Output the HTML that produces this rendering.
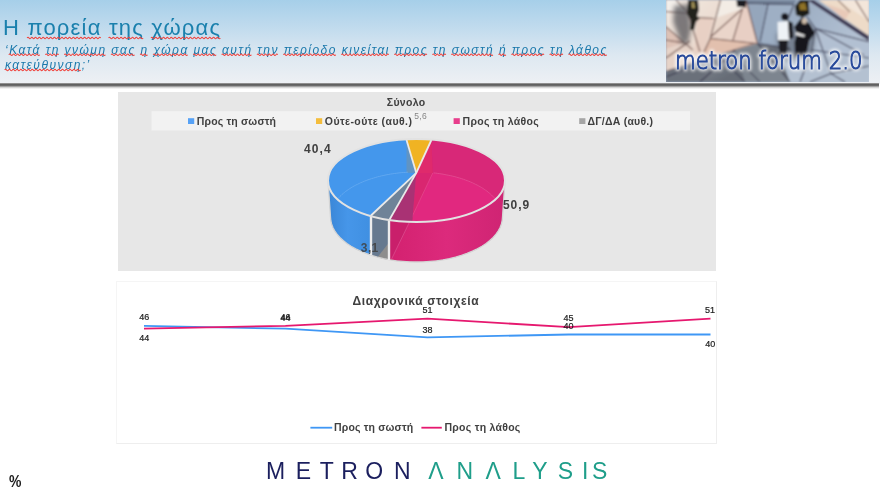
<!DOCTYPE html>
<html lang="el">
<head>
<meta charset="utf-8">
<title>Η πορεία της χώρας</title>
<style>
html,body{margin:0;padding:0;}
body{width:880px;height:490px;position:relative;overflow:hidden;background:#fff;font-family:"Liberation Sans","DejaVu Sans",sans-serif;}
#hdr{position:absolute;left:0;top:0;width:880px;height:84px;background:linear-gradient(to bottom,#a6cfe9 0px,#c3dcee 30px,#dde8f1 55px,#edf0f4 83px);}
#shadow{position:absolute;left:0;top:83px;width:879px;height:7px;background:linear-gradient(to bottom,#b4b4b4 0px,#6a6a6a 1px,#565656 2px,#808080 3px,#c4c4c4 4px,#ececec 5.2px,#ffffff 6.5px);}
#title{position:absolute;left:3px;top:14px;font-size:22px;line-height:28px;color:#1a80ad;white-space:nowrap;letter-spacing:1.19px;}
#sub{position:absolute;left:5px;top:42.5px;font-size:12px;line-height:15px;color:#1a78ab;font-style:italic;white-space:nowrap;letter-spacing:1.47px;}
.w{}
svg .df text{font-family:"DejaVu Sans Light","DejaVu Sans",sans-serif;font-weight:200;}

#p1{position:absolute;left:118px;top:92px;width:598px;height:179px;background:#e7e7e7;}
#p2{position:absolute;left:116px;top:281px;width:599px;height:161px;border:1px solid #f5f5f5;border-right-color:#eeeeee;border-bottom-color:#eeeeee;background:#fff;}
svg{position:absolute;left:0;top:0;}
svg text{font-family:"Liberation Sans","DejaVu Sans",sans-serif;}
#pct{position:absolute;left:8.8px;top:471.8px;font-size:17px;font-weight:bold;color:#1c1c1c;line-height:20px;transform:scaleX(0.82);transform-origin:0 0;}
</style>
</head>
<body>
<div id="hdr"></div>
<div id="shadow"></div>
<div id="title">Η <span class="w">πορεία</span> <span class="w">της</span> <span class="w">χώρας</span></div>
<div id="sub">‘<span class="w">Κατά</span> <span class="w">τη</span> <span class="w">γνώμη</span> <span class="w">σας</span> <span class="w">η</span> <span class="w">χώρα</span> <span class="w">μας</span> <span class="w">αυτή</span> <span class="w">την</span> <span class="w">περίοδο</span> <span class="w">κινείται</span> <span class="w">προς</span> <span class="w">τη</span> <span class="w">σωστή</span> <span class="w">ή</span> <span class="w">προς</span> <span class="w">τη</span> <span class="w">λάθος</span><br><span class="w">κατεύθυνση</span>;’</div>
<div id="p1"></div>
<div id="p2"></div>
<!--PHOTO--><svg id="photo" width="203" height="82" viewBox="666 0 203 82" style="left:666px;top:0">
<defs>
<linearGradient id="pbg" x1="750" y1="0" x2="869" y2="82" gradientUnits="userSpaceOnUse"><stop offset="0" stop-color="#8c9db3"/><stop offset="0.5" stop-color="#a6b6ca"/><stop offset="1" stop-color="#c0ccdb"/></linearGradient>
<linearGradient id="pbe" x1="666" y1="0" x2="740" y2="60" gradientUnits="userSpaceOnUse"><stop offset="0" stop-color="#f2ebe4"/><stop offset="0.55" stop-color="#ebdbd0"/><stop offset="1" stop-color="#e3c8ba"/></linearGradient>
<linearGradient id="pgl" x1="700" y1="50" x2="720" y2="82" gradientUnits="userSpaceOnUse"><stop offset="0" stop-color="#8a9099"/><stop offset="1" stop-color="#666c76"/></linearGradient>
<filter id="soft" x="-5%" y="-10%" width="110%" height="120%"><feGaussianBlur stdDeviation="0.85"/></filter>
<filter id="bl2" x="-30%" y="-30%" width="160%" height="160%"><feGaussianBlur stdDeviation="2"/></filter>
<filter id="bl1" x="-30%" y="-30%" width="160%" height="160%"><feGaussianBlur stdDeviation="0.7"/></filter>
<filter id="glow" x="-10%" y="-40%" width="120%" height="180%"><feGaussianBlur stdDeviation="1.8"/></filter>
</defs>
<g filter="url(#soft)">
<rect x="656" y="-10" width="223" height="102" fill="url(#pbg)"/>
<!-- top dark strip of grey tiles -->
<path d="M746,0 L796,0 L794,4.5 L746.5,3.5Z" fill="#74849a"/>
<path d="M746,3 L768,4 L760,42 L757,43.5Z" fill="#95a6bb"/>
<path d="M768,4 L794,4.5 L778,42 L760,42Z" fill="#9eafc4"/>
<!-- lower-left grey tiles -->
<path d="M666,70.7 L754.6,43.4 L790,48 L800,82 L666,82Z" fill="url(#pgl)"/>
<path d="M666,70.7 L718,55 L700,82 L666,82Z" fill="#6a707a"/>
<path d="M735,50 L757,44 L790,82 L745,82Z" fill="#7d858f"/>
<path d="M778,50 L869,58 L869,82 L790,82Z" fill="#b4c1d1"/>
<path d="M815,28 L869,42 L869,58 L812,50Z" fill="#b2c0d2"/>
<!-- beige left -->
<path d="M666,0 L746,0 L757.5,43.5 L666,70.7Z" fill="url(#pbe)"/>
<path d="M697,17.5 L714,18.5 L704,52 L694,55Z" fill="#e8d0c4"/>
<path d="M742.5,8.7 L710.6,37 L733,40Z" fill="#ead5ca"/>
<path d="M742.5,8.7 L746,0 L757.5,43.5 L733,40Z" fill="#e8cfc4"/>
<path d="M710,38.5 L756.4,43.5 L700,60.5Z" fill="#e2c0ae"/>
<path d="M666,27 L684,43 L666,49Z" fill="#dec2b6"/>
<path d="M666,49 L690,41 L700,60.5 L666,70.7Z" fill="#e6d3c8"/>
<path d="M720.5,0 L746,0 L742.5,8.7 L714,18.5Z" fill="#f3ece5"/>
<path d="M666,0 L676,0 L688,13 L666,11.6Z" fill="#f4efea"/>
<!-- beige right -->
<path d="M818.6,0 L869,0 L869,36Z" fill="#eedbc8"/>
<path d="M838,0 L869,0 L869,21Z" fill="#f3e6da"/>
<path d="M826,4 L850,12 L845,20Z" fill="#e8c9b8"/>
<path d="M813.5,0 L869,36 L869,41 L807.5,0Z" fill="#352e48" opacity="0.95" filter="url(#bl1)"/>
<!-- tile lines -->
<g stroke="#65443f" stroke-width="1.05" fill="none" opacity="0.95">
<path d="M720.5,0 L710,39 L704,52 M697,17.4 L714,18.5 M742.5,8.7 L710.6,37 M742.5,8.7 L733,40 M710.6,38.5 L756.4,43.5 M746,0 L757.5,43.5 M666,11.6 L690,13.5 M666,26.7 L692.7,49.8 M666,40 L684,43 M676,0 L688,13 L700,52 M666,58 L690,41 M855.4,0 L869,21.7 M838,0 L850,12"/>
</g>
<path d="M667.5,70.7 L754.6,43.4" stroke="#5a4a50" stroke-width="1" opacity="0.7"/>
<g stroke="#2e2c44" stroke-width="1.05" fill="none" opacity="0.9">
<path d="M757.5,43.5 L790,48 M768,4 L760,42 M794,4.5 L778,42 M815.3,28.4 L869,41.8 M815.3,28.4 L863.8,55 M815.3,28.4 L831,73.6 M815.3,28.4 L812,50 M807,16.7 L815.3,28.4 M812,50 L869,58 M831,73.6 L869,66 M812,50 L800,82 M831,73.6 L810,82 M831,73.6 L845,82 M700,82 L735,50 M757.5,43.5 L790,82 M718,55 L745,82 M666,77 L718,55 M740,62 L760,82 M746,3.3 L794,4.5"/>
</g>
<!-- shadow of person 1 -->
<path d="M674,6 L689,4 L691,30 L688,44 L681,43 L673,22Z" fill="#55555a" opacity="0.75" filter="url(#bl2)"/>
<!-- person 1 -->
<path d="M688,0 L698,0 L699,10 L697,16 L700,18 L696,22 L694,30 L690,30 L691,20 L687,14Z" fill="#24211e" filter="url(#bl1)"/>
<path d="M691.5,2 L694,2 L695,8 L692,8Z" fill="#a8965a" filter="url(#bl1)"/>
<!-- person 2 top -->
<path d="M736.5,0 L746,0 L746,7.5 L737,6.5Z" fill="#1e1d22" filter="url(#bl1)"/>
<!-- shadows right people -->
<path d="M776,34 L792,30 L816,30 L812,60 L780,60Z" fill="#4a4f5c" opacity="0.5" filter="url(#bl2)"/>
<!-- person white shirt -->
<ellipse cx="784.8" cy="16.7" rx="3.6" ry="3.8" fill="#15151a" filter="url(#bl1)"/>
<path d="M777.6,22 L788.5,21 L789.5,40 L778,41Z" fill="#eef2f6" filter="url(#bl1)"/>
<path d="M788,20.5 L793,23 L793.5,38 L789,39Z" fill="#1a1a20" filter="url(#bl1)"/>
<path d="M778.5,40 L788,40 L786.5,56 L779.5,56Z" fill="#1b1b22" filter="url(#bl1)"/>
<!-- person dark -->
<path d="M794,27 L802,17 L810,24 L815,33 L809,41 L806,57 L795,57 L794.5,42 L797,34Z" fill="#17171c" filter="url(#bl1)"/>
<ellipse cx="804.4" cy="21" rx="2.6" ry="3" fill="#cdbba8" filter="url(#bl1)"/>
<path d="M796,32 L805,35 L804,37 L795.5,35Z" fill="#e6e6e6" filter="url(#bl1)"/>
<!-- person top -->
<path d="M795,6 L800,0 L808.6,0 L809.5,14 L803,17.5 L796,15Z" fill="#1f1b17" filter="url(#bl1)"/>
<path d="M799,4 L805,2.5 L807,10 L800,10Z" fill="#8f7228" filter="url(#bl1)"/>
</g>
<!-- text glow + text -->
<g transform="translate(675,0) scale(0.85,1) translate(-675,0)" class="df">
<text x="675" y="68.8" font-size="25" fill="#ffffff" stroke="#ffffff" stroke-width="4.5" stroke-linejoin="round" opacity="0.8" filter="url(#glow)">metron forum 2.0</text>
<text x="675" y="68.8" font-size="25" fill="#27499a" stroke="#27499a" stroke-width="1.05">metron forum 2.0</text>
</g>
</svg><!--/PHOTO-->
<!--CHARTS--><svg id="charts" width="880" height="490" viewBox="0 0 880 490">
<rect x="151.5" y="111.2" width="538.5" height="19.3" fill="#f2f2f2"/>
<text x="386.8" y="106.2" font-size="10.5" font-weight="bold" textLength="38.4" lengthAdjust="spacing" fill="#404040">Σύνολο</text>
<rect x="188" y="118.2" width="6.2" height="5.8" fill="#57a2f6"/>
<text x="196.8" y="124.6" font-size="10.5" font-weight="bold" textLength="79.2" lengthAdjust="spacing" fill="#404040">Προς τη σωστή</text>
<rect x="316" y="118.2" width="6.2" height="5.8" fill="#f4bd3c"/>
<text x="324.8" y="124.6" font-size="10.5" font-weight="bold" textLength="87.1" lengthAdjust="spacing" fill="#404040">Ούτε-ούτε (αυθ.)</text>
<rect x="453.6" y="118.2" width="6.2" height="5.8" fill="#e83e8c"/>
<text x="462.5" y="124.6" font-size="10.5" font-weight="bold" textLength="76.2" lengthAdjust="spacing" fill="#404040">Προς τη λάθος</text>
<rect x="579.2" y="118.2" width="6.2" height="5.8" fill="#a6a6a6"/>
<text x="587.5" y="124.6" font-size="10.5" font-weight="bold" textLength="65.5" lengthAdjust="spacing" fill="#404040">ΔΓ/ΔΑ (αυθ.)</text>
<text x="414.3" y="118.7" font-size="8.5" textLength="12.4" lengthAdjust="spacing" fill="#858585">5,6</text>
<defs>
<linearGradient id="gbw" x1="328" x2="372" y1="0" y2="0" gradientUnits="userSpaceOnUse"><stop offset="0" stop-color="#3a86d6"/><stop offset="0.45" stop-color="#4696e9"/><stop offset="1" stop-color="#3f8fe1"/></linearGradient>
<linearGradient id="gpw" x1="389" x2="505" y1="0" y2="0" gradientUnits="userSpaceOnUse"><stop offset="0" stop-color="#d3216f"/><stop offset="0.5" stop-color="#dc2a7c"/><stop offset="1" stop-color="#cf2473"/></linearGradient>
<clipPath id="ctop"><ellipse cx="416.5" cy="180.5" rx="88.5" ry="41.5"/></clipPath>
</defs>
<path d="M328.0,180.5 L328.0,181.6 L328.1,182.6 L328.3,183.7 L328.5,184.7 L328.7,185.8 L329.0,186.8 L329.4,187.9 L329.8,188.9 L330.3,190.0 L330.9,191.0 L331.5,192.0 L332.1,193.0 L332.8,194.0 L333.6,195.0 L334.4,196.0 L335.3,197.0 L336.2,198.0 L337.2,198.9 L338.3,199.9 L339.3,200.8 L340.5,201.7 L341.7,202.6 L342.9,203.5 L344.2,204.4 L345.5,205.3 L346.9,206.1 L348.3,206.9 L349.8,207.8 L351.3,208.5 L352.8,209.3 L354.4,210.1 L356.0,210.8 L357.7,211.5 L359.4,212.2 L361.2,212.9 L363.0,213.5 L364.8,214.2 L366.6,214.8 L368.5,215.4 L370.4,215.9 L370.4,255.0 L368.6,254.4 L366.8,253.7 L365.1,253.1 L363.4,252.4 L361.7,251.7 L360.0,250.9 L358.4,250.2 L356.9,249.4 L355.3,248.6 L353.8,247.8 L352.4,247.0 L350.9,246.1 L349.6,245.3 L348.2,244.4 L346.9,243.5 L345.7,242.5 L344.5,241.6 L343.3,240.6 L342.2,239.7 L341.1,238.7 L340.1,237.7 L339.2,236.7 L338.2,235.7 L337.4,234.6 L336.5,233.6 L335.8,232.5 L335.1,231.4 L334.4,230.4 L333.8,229.3 L333.2,228.2 L332.7,227.1 L332.2,226.0 L331.8,224.9 L331.5,223.8 L331.2,222.6 L330.9,221.5 L330.7,220.4 L330.6,219.3 L330.5,218.1 L330.5,217.0Z" fill="url(#gbw)"/>
<path d="M370.4,215.9 L370.9,216.1 L371.3,216.2 L371.8,216.3 L372.2,216.4 L372.7,216.6 L373.1,216.7 L373.6,216.8 L374.0,216.9 L374.5,217.0 L375.0,217.1 L375.4,217.3 L375.9,217.4 L376.3,217.5 L376.8,217.6 L377.3,217.7 L377.7,217.8 L378.2,217.9 L378.7,218.0 L379.2,218.1 L379.6,218.2 L380.1,218.3 L380.6,218.4 L381.1,218.5 L381.5,218.6 L382.0,218.7 L382.5,218.8 L383.0,218.9 L383.5,219.0 L383.9,219.1 L384.4,219.2 L384.9,219.3 L385.4,219.4 L385.9,219.4 L386.4,219.5 L386.9,219.6 L387.4,219.7 L387.9,219.8 L388.4,219.8 L388.8,219.9 L389.3,220.0 L389.3,259.7 L388.8,259.6 L388.4,259.5 L387.9,259.4 L387.4,259.3 L386.9,259.2 L386.4,259.1 L385.9,259.1 L385.4,259.0 L384.9,258.9 L384.4,258.8 L383.9,258.6 L383.4,258.5 L383.0,258.4 L382.5,258.3 L382.0,258.2 L381.5,258.1 L381.0,258.0 L380.6,257.9 L380.1,257.8 L379.6,257.7 L379.1,257.5 L378.7,257.4 L378.2,257.3 L377.7,257.2 L377.3,257.0 L376.8,256.9 L376.3,256.8 L375.9,256.7 L375.4,256.5 L374.9,256.4 L374.5,256.3 L374.0,256.1 L373.6,256.0 L373.1,255.9 L372.7,255.7 L372.2,255.6 L371.8,255.4 L371.3,255.3 L370.9,255.1 L370.4,255.0Z" fill="#66798f"/>
<path d="M389.3,220.0 L393.3,220.6 L397.4,221.0 L401.5,221.4 L405.6,221.7 L409.7,221.9 L413.9,222.0 L418.1,222.0 L422.2,221.9 L426.4,221.7 L430.5,221.5 L434.6,221.1 L438.6,220.7 L442.7,220.1 L446.6,219.5 L450.5,218.8 L454.3,218.0 L458.0,217.2 L461.6,216.2 L465.2,215.2 L468.6,214.0 L471.9,212.9 L475.1,211.6 L478.2,210.3 L481.1,208.9 L483.8,207.4 L486.5,205.9 L488.9,204.3 L491.3,202.7 L493.4,201.0 L495.4,199.3 L497.2,197.6 L498.8,195.8 L500.2,193.9 L501.5,192.1 L502.6,190.2 L503.4,188.3 L504.1,186.3 L504.6,184.4 L504.9,182.5 L505.0,180.5 L502.5,217.0 L502.4,219.1 L502.1,221.3 L501.6,223.4 L501.0,225.5 L500.1,227.5 L499.1,229.6 L497.8,231.6 L496.4,233.6 L494.8,235.6 L493.1,237.5 L491.1,239.4 L489.0,241.2 L486.7,243.0 L484.3,244.7 L481.7,246.3 L479.0,247.9 L476.2,249.4 L473.2,250.8 L470.0,252.2 L466.8,253.5 L463.4,254.7 L460.0,255.8 L456.4,256.9 L452.8,257.8 L449.1,258.7 L445.3,259.4 L441.4,260.1 L437.5,260.6 L433.5,261.1 L429.5,261.5 L425.5,261.8 L421.4,261.9 L417.3,262.0 L413.3,262.0 L409.2,261.8 L405.2,261.6 L401.2,261.3 L397.2,260.8 L393.2,260.3 L389.3,259.7Z" fill="url(#gpw)"/>
<path d="M389,242.5 L389,260.2 L377.5,257.2Z" fill="#8d8d8d"/>
<path d="M389,220.8 L409.5,222.3 L391.6,259.6 L389,260.2Z" fill="#c91f6b"/>
<path d="M409.5,222 L391.6,259" stroke="#e2609c" stroke-width="0.7" fill="none" opacity="0.8"/>
<path d="M328.0,180.5 L330.5,217.0 L330.8,220.5 L331.6,224.0 L332.9,227.5 L334.7,230.9 L337.0,234.2 L339.9,237.4 L343.2,240.5 L346.9,243.5 L351.1,246.2 L355.7,248.8 L360.6,251.2 L366.0,253.4 L371.6,255.4 L377.5,257.1 L383.6,258.6 L389.9,259.8 L396.4,260.8 L403.0,261.4 L409.8,261.9 L416.5,262.0 L423.2,261.9 L430.0,261.4 L436.6,260.8 L443.1,259.8 L449.4,258.6 L455.5,257.1 L461.4,255.4 L467.0,253.4 L472.4,251.2 L477.3,248.8 L481.9,246.2 L486.1,243.5 L489.8,240.5 L493.1,237.4 L496.0,234.2 L498.3,230.9 L500.1,227.5 L501.4,224.0 L502.2,220.5 L502.5,217.0 L505.0,180.5" fill="none" stroke="#d4d4d4" stroke-width="1.3"/>
<path d="M416.3,172.9 L370.4,215.9 L365.8,214.5 L361.4,213.0 L357.3,211.3 L353.3,209.6 L349.6,207.7 L346.1,205.7 L342.9,203.6 L340.0,201.4 L337.4,199.1 L335.1,196.8 L333.1,194.4 L331.4,192.0 L330.1,189.5 L329.1,186.9 L328.4,184.4 L328.0,181.8 L328.0,179.2 L328.4,176.7 L329.0,174.1 L330.1,171.6 L331.4,169.1 L333.1,166.7 L335.1,164.3 L337.4,161.9 L340.0,159.7 L342.9,157.5 L346.0,155.4 L349.5,153.4 L353.2,151.5 L357.2,149.7 L361.3,148.0 L365.7,146.5 L370.3,145.1 L375.1,143.8 L380.0,142.7 L385.1,141.7 L390.2,140.9 L395.5,140.2 L400.9,139.7 L406.3,139.3Z" fill="#4497ec"/>
<path d="M416.3,172.9 L406.3,139.3 L407.0,139.2 L407.6,139.2 L408.2,139.2 L408.8,139.2 L409.5,139.1 L410.1,139.1 L410.7,139.1 L411.4,139.1 L412.0,139.1 L412.6,139.0 L413.3,139.0 L413.9,139.0 L414.5,139.0 L415.2,139.0 L415.8,139.0 L416.4,139.0 L417.1,139.0 L417.7,139.0 L418.3,139.0 L419.0,139.0 L419.6,139.0 L420.2,139.0 L420.9,139.1 L421.5,139.1 L422.1,139.1 L422.8,139.1 L423.4,139.1 L424.0,139.1 L424.6,139.2 L425.3,139.2 L425.9,139.2 L426.5,139.3 L427.2,139.3 L427.8,139.3 L428.4,139.4 L429.0,139.4 L429.7,139.5 L430.3,139.5 L430.9,139.6 L431.5,139.6Z" fill="#f0b323"/>
<path d="M416.3,172.9 L431.5,139.6 L438.6,140.3 L445.6,141.3 L452.3,142.6 L458.9,144.1 L465.1,145.8 L471.0,147.8 L476.5,150.0 L481.6,152.4 L486.3,155.0 L490.6,157.8 L494.3,160.7 L497.5,163.8 L500.1,166.9 L502.2,170.2 L503.7,173.5 L504.7,176.9 L505.0,180.3 L504.7,183.7 L503.9,187.1 L502.4,190.4 L500.4,193.7 L497.8,196.9 L494.7,199.9 L491.0,202.9 L486.9,205.7 L482.2,208.3 L477.1,210.7 L471.7,213.0 L465.8,215.0 L459.6,216.7 L453.1,218.3 L446.4,219.6 L439.5,220.6 L432.4,221.3 L425.2,221.8 L418.0,222.0 L410.7,221.9 L403.5,221.5 L396.3,220.9 L389.3,220.0Z" fill="#e1287f"/>
<path d="M416.3,172.9 L389.3,220.0 L388.8,219.9 L388.4,219.8 L387.9,219.8 L387.4,219.7 L386.9,219.6 L386.4,219.5 L385.9,219.4 L385.4,219.4 L384.9,219.3 L384.4,219.2 L383.9,219.1 L383.5,219.0 L383.0,218.9 L382.5,218.8 L382.0,218.7 L381.5,218.6 L381.1,218.5 L380.6,218.4 L380.1,218.3 L379.6,218.2 L379.2,218.1 L378.7,218.0 L378.2,217.9 L377.7,217.8 L377.3,217.7 L376.8,217.6 L376.3,217.5 L375.9,217.4 L375.4,217.3 L375.0,217.1 L374.5,217.0 L374.0,216.9 L373.6,216.8 L373.1,216.7 L372.7,216.6 L372.2,216.4 L371.8,216.3 L371.3,216.2 L370.9,216.1 L370.4,215.9Z" fill="#6f8398"/>
<g clip-path="url(#ctop)">
<clipPath id="cpk"><path d="M416.3,172.9 L431.5,139.6 L438.6,140.3 L445.6,141.3 L452.3,142.6 L458.9,144.1 L465.1,145.8 L471.0,147.8 L476.5,150.0 L481.6,152.4 L486.3,155.0 L490.6,157.8 L494.3,160.7 L497.5,163.8 L500.1,166.9 L502.2,170.2 L503.7,173.5 L504.7,176.9 L505.0,180.3 L504.7,183.7 L503.9,187.1 L502.4,190.4 L500.4,193.7 L497.8,196.9 L494.7,199.9 L491.0,202.9 L486.9,205.7 L482.2,208.3 L477.1,210.7 L471.7,213.0 L465.8,215.0 L459.6,216.7 L453.1,218.3 L446.4,219.6 L439.5,220.6 L432.4,221.3 L425.2,221.8 L418.0,222.0 L410.7,221.9 L403.5,221.5 L396.3,220.9 L389.3,220.0Z"/></clipPath>
<g clip-path="url(#cpk)"><path d="M300,120 H540 V280 H300Z M502.5,217.0 L501.4,224.0 L498.3,230.9 L493.1,237.4 L486.1,243.5 L477.3,248.8 L467.0,253.4 L455.5,257.1 L443.1,259.8 L430.0,261.4 L416.5,262.0 L403.0,261.4 L389.9,259.8 L377.5,257.1 L366.0,253.4 L355.7,248.8 L346.9,243.5 L339.9,237.4 L334.7,230.9 L331.6,224.0 L330.5,217.0 L331.6,210.0 L334.7,203.1 L339.9,196.6 L346.9,190.5 L355.7,185.2 L366.0,180.6 L377.5,176.9 L389.9,174.2 L403.0,172.6 L416.5,172.0 L430.0,172.6 L443.1,174.2 L455.5,176.9 L467.0,180.6 L477.3,185.2 L486.1,190.5 L493.1,196.6 L498.3,203.1 L501.4,210.0 L502.5,217.0Z" fill="#d82878" fill-rule="evenodd"/></g>
<path d="M416.3,172.9 L431.4,140 L432.8,172.9 L409.5,222.5 L412.2,222.5Z" fill="#d92670"/>
<path d="M416.3,172.9 L431.4,140 L432.6,172.9Z" fill="#df2a6c"/>
<path d="M432.8,172.9 L409.5,222" stroke="#e85a9c" stroke-width="0.7" fill="none" opacity="0.7"/>
<path d="M406.5,140.3 L406.5,172.7 L416.3,172.9Z" fill="#6094c3"/>
<path d="M416.3,172.9 L406.3,139.3 L407.0,139.2 L407.6,139.2 L408.2,139.2 L408.8,139.2 L409.5,139.1 L410.1,139.1 L410.7,139.1 L411.4,139.1 L412.0,139.1 L412.6,139.0 L413.3,139.0 L413.9,139.0 L414.5,139.0 L415.2,139.0 L415.8,139.0 L416.4,139.0 L417.1,139.0 L417.7,139.0 L418.3,139.0 L419.0,139.0 L419.6,139.0 L420.2,139.0 L420.9,139.1 L421.5,139.1 L422.1,139.1 L422.8,139.1 L423.4,139.1 L424.0,139.1 L424.6,139.2 L425.3,139.2 L425.9,139.2 L426.5,139.3 L427.2,139.3 L427.8,139.3 L428.4,139.4 L429.0,139.4 L429.7,139.5 L430.3,139.5 L430.9,139.6 L431.5,139.6Z" fill="#f0b323"/>
<path d="M416.3,172.9 L389,220.5 L412.2,222.5Z" fill="#a93274"/>
<path d="M338.0,198.7 L338.9,197.6 L339.9,196.5 L341.0,195.5 L342.1,194.4 L343.2,193.4 L344.5,192.4 L345.7,191.4 L347.0,190.5 L348.4,189.5 L349.8,188.6 L351.2,187.7 L352.7,186.8 L354.3,185.9 L355.8,185.1 L357.5,184.3 L359.1,183.5 L360.8,182.7 L362.6,182.0 L364.3,181.2 L366.2,180.5 L368.0,179.8 L369.9,179.2 L371.8,178.6 L373.7,178.0 L375.7,177.4 L377.7,176.8 L379.8,176.3 L381.8,175.8 L383.9,175.4 L386.0,174.9 L388.1,174.5 L390.3,174.1 L392.4,173.8 L394.6,173.5 L396.8,173.2 L399.0,172.9 L401.2,172.7 L403.4,172.5 L405.7,172.4 L407.9,172.2" fill="none" stroke="#6fb0f2" stroke-width="0.8" opacity="0.8"/>
<path d="M433.6,172.9 L435.7,173.1 L437.8,173.4 L439.9,173.7 L442.0,174.0 L444.1,174.4 L446.1,174.8 L448.2,175.2 L450.2,175.6 L452.1,176.0 L454.1,176.5 L456.1,177.0 L458.0,177.6 L459.9,178.1 L461.7,178.7 L463.6,179.3 L465.4,180.0 L467.1,180.6 L468.9,181.3 L470.6,182.0 L472.3,182.7 L473.9,183.5 L475.5,184.3 L477.1,185.0 L478.6,185.9 L480.1,186.7 L481.5,187.5 L482.9,188.4 L484.3,189.3 L485.6,190.2 L486.9,191.1 L488.1,192.1 L489.3,193.0 L490.4,194.0 L491.5,195.0 L492.5,196.0 L493.5,197.0 L494.5,198.0 L495.4,199.0 L496.2,200.1 L497.0,201.1" fill="none" stroke="#e85a9c" stroke-width="0.8" opacity="0.8"/>
</g>
<path d="M416.3,172.9 L406.5,140.0" stroke="#e9e9e9" stroke-width="1.8"/>
<path d="M416.3,172.9 L431.4,140.0" stroke="#e9e9e9" stroke-width="1.8"/>
<path d="M416.3,172.9 L389.0,220.5" stroke="#e9e9e9" stroke-width="1.8"/>
<path d="M416.3,172.9 L371.0,215.5" stroke="#e9e9e9" stroke-width="1.8"/>
<path d="M371,215.5 V255.3 M389,220.5 V260.4" stroke="#ececec" stroke-width="2.4"/>
<ellipse cx="416.5" cy="180.5" rx="88.5" ry="41.5" fill="none" stroke="#e2e2e2" stroke-width="2"/>
<text x="304.0" y="152.9" font-size="12" font-weight="bold" textLength="26.7" lengthAdjust="spacing" fill="#404040">40,4</text>
<text x="502.9" y="209.4" font-size="12" font-weight="bold" textLength="26.2" lengthAdjust="spacing" fill="#404040">50,9</text>
<text x="360.8" y="252.2" font-size="12" font-weight="bold" textLength="17.5" lengthAdjust="spacing" fill="#404040" opacity="0.85">3,1</text>
<text x="352.5" y="304.5" font-size="12" font-weight="bold" textLength="126.1" lengthAdjust="spacing" fill="#404040">Διαχρονικά στοιχεία</text>
<polyline points="144.0,325.8 285.5,328.7 427.5,337.4 568.8,334.5 710.5,334.5" fill="none" stroke="#3f97f5" stroke-width="1.8" stroke-linejoin="round"/>
<polyline points="144.0,328.7 285.5,325.8 427.5,318.6 568.8,327.2 710.5,318.6" fill="none" stroke="#e6186f" stroke-width="1.8" stroke-linejoin="round"/>
<text x="144.2" y="320.2" font-size="9" text-anchor="middle" fill="#1c1c1c" stroke="#1c1c1c" stroke-width="0.2">46</text>
<text x="144.2" y="341.0" font-size="9" text-anchor="middle" fill="#1c1c1c" stroke="#1c1c1c" stroke-width="0.2">44</text>
<text x="285.4" y="319.9" font-size="9" text-anchor="middle" fill="#1c1c1c" stroke="#1c1c1c" stroke-width="0.2">46</text>
<text x="285.4" y="321.1" font-size="9" text-anchor="middle" fill="#1c1c1c" stroke="#1c1c1c" stroke-width="0.2">44</text>
<text x="427.4" y="312.7" font-size="9" text-anchor="middle" fill="#1c1c1c" stroke="#1c1c1c" stroke-width="0.2">51</text>
<text x="427.4" y="332.6" font-size="9" text-anchor="middle" fill="#1c1c1c" stroke="#1c1c1c" stroke-width="0.2">38</text>
<text x="568.5" y="320.5" font-size="9" text-anchor="middle" fill="#1c1c1c" stroke="#1c1c1c" stroke-width="0.2">45</text>
<text x="568.5" y="328.7" font-size="9" text-anchor="middle" fill="#1c1c1c" stroke="#1c1c1c" stroke-width="0.2">40</text>
<text x="710.0" y="312.5" font-size="9" text-anchor="middle" fill="#1c1c1c" stroke="#1c1c1c" stroke-width="0.2">51</text>
<text x="710.2" y="346.9" font-size="9" text-anchor="middle" fill="#1c1c1c" stroke="#1c1c1c" stroke-width="0.2">40</text>
<path d="M310.4,427.7 H332.2" stroke="#3f97f5" stroke-width="1.8"/>
<text x="334.0" y="431.3" font-size="10.5" font-weight="bold" textLength="79.2" lengthAdjust="spacing" fill="#404040">Προς τη σωστή</text>
<path d="M421.4,427.7 H441.8" stroke="#e6186f" stroke-width="1.8"/>
<text x="444.5" y="431.3" font-size="10.5" font-weight="bold" textLength="75.8" lengthAdjust="spacing" fill="#404040">Προς τη λάθος</text>
<text y="478.6" font-size="23" fill="#1b1f5e" text-anchor="middle" x="275.5 303.3 326.9 349.6 374.2 402.3">METRON</text>
<text y="478.6" font-size="23" fill="#1f9e8a" text-anchor="middle" x="435.9 464.9 493.3 518.9 539.9 565.5 585.3 599.6">ΛNΛLYSIS</text>
</svg><!--/CHARTS-->
<!--SQ--><svg id="sq" width="880" height="90" viewBox="0 0 880 90"><path d="M27.1,38.0 Q28.0,36.5 29.0,38.0 Q29.9,39.5 30.9,38.0 Q31.8,36.5 32.8,38.0 Q33.7,39.5 34.6,38.0 Q35.6,36.5 36.5,38.0 Q37.5,39.5 38.4,38.0 Q39.4,36.5 40.3,38.0 Q41.2,39.5 42.2,38.0 Q43.1,36.5 44.1,38.0 Q45.0,39.5 46.0,38.0 Q46.9,36.5 47.8,38.0 Q48.8,39.5 49.7,38.0 Q50.7,36.5 51.6,38.0 Q52.6,39.5 53.5,38.0 Q54.4,36.5 55.4,38.0 Q56.3,39.5 57.3,38.0 Q58.2,36.5 59.2,38.0 Q60.1,39.5 61.1,38.0 Q62.0,36.5 62.9,38.0 Q63.9,39.5 64.8,38.0 Q65.8,36.5 66.7,38.0 Q67.7,39.5 68.6,38.0 Q69.5,36.5 70.5,38.0 Q71.4,39.5 72.4,38.0 Q73.3,36.5 74.3,38.0 Q75.2,39.5 76.1,38.0 Q77.1,36.5 78.0,38.0 Q79.0,39.5 79.9,38.0 Q80.9,36.5 81.8,38.0 Q82.7,39.5 83.7,38.0 Q84.6,36.5 85.6,38.0 Q86.5,39.5 87.5,38.0 Q88.4,36.5 89.4,38.0 Q90.3,39.5 91.2,38.0 Q92.2,36.5 93.1,38.0 Q94.1,39.5 95.0,38.0 Q96.0,36.5 96.9,38.0 Q97.8,39.5 98.8,38.0 Q99.7,36.5 100.7,38.0 M108.6,38.0 Q109.5,36.5 110.5,38.0 Q111.5,39.5 112.4,38.0 Q113.4,36.5 114.3,38.0 Q115.3,39.5 116.2,38.0 Q117.2,36.5 118.2,38.0 Q119.1,39.5 120.1,38.0 Q121.0,36.5 122.0,38.0 Q123.0,39.5 123.9,38.0 Q124.9,36.5 125.8,38.0 Q126.8,39.5 127.8,38.0 Q128.7,36.5 129.7,38.0 Q130.6,39.5 131.6,38.0 Q132.5,36.5 133.5,38.0 Q134.5,39.5 135.4,38.0 Q136.4,36.5 137.3,38.0 Q138.3,39.5 139.3,38.0 Q140.2,36.5 141.2,38.0 Q142.1,39.5 143.1,38.0 M151.0,38.0 Q152.0,36.5 152.9,38.0 Q153.9,39.5 154.8,38.0 Q155.8,36.5 156.8,38.0 Q157.7,39.5 158.7,38.0 Q159.7,36.5 160.6,38.0 Q161.6,39.5 162.6,38.0 Q163.5,36.5 164.5,38.0 Q165.4,39.5 166.4,38.0 Q167.4,36.5 168.3,38.0 Q169.3,39.5 170.3,38.0 Q171.2,36.5 172.2,38.0 Q173.1,39.5 174.1,38.0 Q175.1,36.5 176.0,38.0 Q177.0,39.5 178.0,38.0 Q178.9,36.5 179.9,38.0 Q180.8,39.5 181.8,38.0 Q182.8,36.5 183.7,38.0 Q184.7,39.5 185.7,38.0 Q186.6,36.5 187.6,38.0 Q188.6,39.5 189.5,38.0 Q190.5,36.5 191.4,38.0 Q192.4,39.5 193.4,38.0 Q194.3,36.5 195.3,38.0 Q196.3,39.5 197.2,38.0 Q198.2,36.5 199.1,38.0 Q200.1,39.5 201.1,38.0 Q202.0,36.5 203.0,38.0 Q204.0,39.5 204.9,38.0 Q205.9,36.5 206.8,38.0 Q207.8,39.5 208.8,38.0 Q209.7,36.5 210.7,38.0 Q211.7,39.5 212.6,38.0 Q213.6,36.5 214.6,38.0 Q215.5,39.5 216.5,38.0 Q217.4,36.5 218.4,38.0 Q219.4,39.5 220.3,38.0 M8.8,54.7 Q9.8,53.2 10.8,54.7 Q11.7,56.2 12.7,54.7 Q13.7,53.2 14.6,54.7 Q15.6,56.2 16.6,54.7 Q17.5,53.2 18.5,54.7 Q19.5,56.2 20.4,54.7 Q21.4,53.2 22.4,54.7 Q23.3,56.2 24.3,54.7 Q25.2,53.2 26.2,54.7 Q27.2,56.2 28.1,54.7 Q29.1,53.2 30.1,54.7 Q31.0,56.2 32.0,54.7 Q33.0,53.2 33.9,54.7 Q34.9,56.2 35.9,54.7 Q36.8,53.2 37.8,54.7 Q38.8,56.2 39.7,54.7 M45.4,54.7 Q46.3,53.2 47.3,54.7 Q48.2,56.2 49.2,54.7 Q50.1,53.2 51.1,54.7 Q52.0,56.2 53.0,54.7 Q53.9,53.2 54.8,54.7 Q55.8,56.2 56.7,54.7 Q57.7,53.2 58.6,54.7 M64.3,54.7 Q65.2,53.2 66.2,54.7 Q67.1,56.2 68.0,54.7 Q69.0,53.2 69.9,54.7 Q70.8,56.2 71.8,54.7 Q72.7,53.2 73.6,54.7 Q74.6,56.2 75.5,54.7 Q76.4,53.2 77.4,54.7 Q78.3,56.2 79.2,54.7 Q80.2,53.2 81.1,54.7 Q82.0,56.2 83.0,54.7 Q83.9,53.2 84.8,54.7 Q85.8,56.2 86.7,54.7 Q87.6,53.2 88.6,54.7 Q89.5,56.2 90.4,54.7 Q91.4,53.2 92.3,54.7 Q93.2,56.2 94.2,54.7 Q95.1,53.2 96.0,54.7 Q97.0,56.2 97.9,54.7 Q98.8,53.2 99.8,54.7 Q100.7,56.2 101.6,54.7 Q102.6,53.2 103.5,54.7 Q104.4,56.2 105.4,54.7 M111.1,54.7 Q112.0,53.2 113.0,54.7 Q114.0,56.2 115.0,54.7 Q115.9,53.2 116.9,54.7 Q117.9,56.2 118.9,54.7 Q119.9,53.2 120.8,54.7 Q121.8,56.2 122.8,54.7 Q123.8,53.2 124.7,54.7 Q125.7,56.2 126.7,54.7 Q127.7,53.2 128.7,54.7 Q129.6,56.2 130.6,54.7 Q131.6,53.2 132.6,54.7 Q133.5,56.2 134.5,54.7 M140.2,54.7 Q141.1,53.2 142.0,54.7 Q142.9,56.2 143.8,54.7 Q144.7,53.2 145.7,54.7 Q146.6,56.2 147.5,54.7 M153.2,54.7 Q154.1,53.2 155.1,54.7 Q156.0,56.2 157.0,54.7 Q157.9,53.2 158.9,54.7 Q159.8,56.2 160.8,54.7 Q161.8,53.2 162.7,54.7 Q163.7,56.2 164.6,54.7 Q165.6,53.2 166.5,54.7 Q167.5,56.2 168.5,54.7 Q169.4,53.2 170.4,54.7 Q171.3,56.2 172.3,54.7 Q173.2,53.2 174.2,54.7 Q175.1,56.2 176.1,54.7 Q177.1,53.2 178.0,54.7 Q179.0,56.2 179.9,54.7 Q180.9,53.2 181.8,54.7 Q182.8,56.2 183.8,54.7 Q184.7,53.2 185.7,54.7 Q186.6,56.2 187.6,54.7 M193.3,54.7 Q194.2,53.2 195.2,54.7 Q196.1,56.2 197.1,54.7 Q198.0,53.2 199.0,54.7 Q199.9,56.2 200.9,54.7 Q201.8,53.2 202.8,54.7 Q203.7,56.2 204.7,54.7 Q205.6,53.2 206.6,54.7 Q207.5,56.2 208.5,54.7 Q209.4,53.2 210.4,54.7 Q211.3,56.2 212.3,54.7 Q213.2,53.2 214.2,54.7 Q215.1,56.2 216.1,54.7 M221.7,54.7 Q222.7,53.2 223.6,54.7 Q224.5,56.2 225.4,54.7 Q226.4,53.2 227.3,54.7 Q228.2,56.2 229.2,54.7 Q230.1,53.2 231.0,54.7 Q231.9,56.2 232.9,54.7 Q233.8,53.2 234.7,54.7 Q235.6,56.2 236.6,54.7 Q237.5,53.2 238.4,54.7 Q239.3,56.2 240.3,54.7 Q241.2,53.2 242.1,54.7 Q243.0,56.2 244.0,54.7 Q244.9,53.2 245.8,54.7 Q246.7,56.2 247.7,54.7 Q248.6,53.2 249.5,54.7 Q250.4,56.2 251.4,54.7 M257.0,54.7 Q258.0,53.2 258.9,54.7 Q259.9,56.2 260.8,54.7 Q261.7,53.2 262.7,54.7 Q263.6,56.2 264.6,54.7 Q265.5,53.2 266.4,54.7 Q267.4,56.2 268.3,54.7 Q269.3,53.2 270.2,54.7 Q271.2,56.2 272.1,54.7 Q273.0,53.2 274.0,54.7 Q274.9,56.2 275.9,54.7 Q276.8,53.2 277.7,54.7 M283.4,54.7 Q284.4,53.2 285.3,54.7 Q286.2,56.2 287.2,54.7 Q288.1,53.2 289.0,54.7 Q290.0,56.2 290.9,54.7 Q291.8,53.2 292.8,54.7 Q293.7,56.2 294.6,54.7 Q295.6,53.2 296.5,54.7 Q297.4,56.2 298.4,54.7 Q299.3,53.2 300.2,54.7 Q301.2,56.2 302.1,54.7 Q303.0,53.2 304.0,54.7 Q304.9,56.2 305.8,54.7 Q306.8,53.2 307.7,54.7 Q308.6,56.2 309.6,54.7 Q310.5,53.2 311.4,54.7 Q312.4,56.2 313.3,54.7 Q314.2,53.2 315.2,54.7 Q316.1,56.2 317.0,54.7 Q318.0,53.2 318.9,54.7 Q319.8,56.2 320.8,54.7 Q321.7,53.2 322.6,54.7 Q323.6,56.2 324.5,54.7 Q325.4,53.2 326.4,54.7 Q327.3,56.2 328.2,54.7 Q329.2,53.2 330.1,54.7 Q331.1,56.2 332.0,54.7 Q332.9,53.2 333.9,54.7 Q334.8,56.2 335.7,54.7 M341.4,54.7 Q342.3,53.2 343.3,54.7 Q344.2,56.2 345.2,54.7 Q346.1,53.2 347.1,54.7 Q348.0,56.2 349.0,54.7 Q349.9,53.2 350.9,54.7 Q351.8,56.2 352.8,54.7 Q353.7,53.2 354.7,54.7 Q355.6,56.2 356.5,54.7 Q357.5,53.2 358.4,54.7 Q359.4,56.2 360.3,54.7 Q361.3,53.2 362.2,54.7 Q363.2,56.2 364.1,54.7 Q365.1,53.2 366.0,54.7 Q367.0,56.2 367.9,54.7 Q368.9,53.2 369.8,54.7 Q370.7,56.2 371.7,54.7 Q372.6,53.2 373.6,54.7 Q374.5,56.2 375.5,54.7 Q376.4,53.2 377.4,54.7 Q378.3,56.2 379.3,54.7 Q380.2,53.2 381.2,54.7 Q382.1,56.2 383.1,54.7 Q384.0,53.2 384.9,54.7 Q385.9,56.2 386.8,54.7 Q387.8,53.2 388.7,54.7 M394.4,54.7 Q395.4,53.2 396.3,54.7 Q397.3,56.2 398.2,54.7 Q399.2,53.2 400.1,54.7 Q401.1,56.2 402.1,54.7 Q403.0,53.2 404.0,54.7 Q404.9,56.2 405.9,54.7 Q406.8,53.2 407.8,54.7 Q408.7,56.2 409.7,54.7 Q410.6,53.2 411.6,54.7 Q412.5,56.2 413.5,54.7 Q414.5,53.2 415.4,54.7 Q416.4,56.2 417.3,54.7 Q418.3,53.2 419.2,54.7 Q420.2,56.2 421.1,54.7 Q422.1,53.2 423.0,54.7 Q424.0,56.2 425.0,54.7 Q425.9,53.2 426.9,54.7 M432.5,54.7 Q433.5,53.2 434.4,54.7 Q435.4,56.2 436.3,54.7 Q437.3,53.2 438.2,54.7 Q439.2,56.2 440.1,54.7 Q441.0,53.2 442.0,54.7 Q442.9,56.2 443.9,54.7 Q444.8,53.2 445.8,54.7 M451.4,54.7 Q452.4,53.2 453.3,54.7 Q454.3,56.2 455.2,54.7 Q456.2,53.2 457.1,54.7 Q458.0,56.2 459.0,54.7 Q459.9,53.2 460.9,54.7 Q461.8,56.2 462.8,54.7 Q463.7,53.2 464.6,54.7 Q465.6,56.2 466.5,54.7 Q467.5,53.2 468.4,54.7 Q469.4,56.2 470.3,54.7 Q471.2,53.2 472.2,54.7 Q473.1,56.2 474.1,54.7 Q475.0,53.2 475.9,54.7 Q476.9,56.2 477.8,54.7 Q478.8,53.2 479.7,54.7 Q480.7,56.2 481.6,54.7 Q482.5,53.2 483.5,54.7 Q484.4,56.2 485.4,54.7 Q486.3,53.2 487.3,54.7 Q488.2,56.2 489.1,54.7 Q490.1,53.2 491.0,54.7 Q492.0,56.2 492.9,54.7 M498.6,54.7 Q499.5,53.2 500.4,54.7 Q501.3,56.2 502.2,54.7 Q503.1,53.2 504.0,54.7 Q505.0,56.2 505.9,54.7 M511.5,54.7 Q512.5,53.2 513.5,54.7 Q514.4,56.2 515.4,54.7 Q516.3,53.2 517.3,54.7 Q518.2,56.2 519.2,54.7 Q520.1,53.2 521.1,54.7 Q522.0,56.2 523.0,54.7 Q523.9,53.2 524.9,54.7 Q525.9,56.2 526.8,54.7 Q527.8,53.2 528.7,54.7 Q529.7,56.2 530.6,54.7 Q531.6,53.2 532.5,54.7 Q533.5,56.2 534.4,54.7 Q535.4,53.2 536.4,54.7 Q537.3,56.2 538.3,54.7 Q539.2,53.2 540.2,54.7 Q541.1,56.2 542.1,54.7 Q543.0,53.2 544.0,54.7 M549.7,54.7 Q550.6,53.2 551.6,54.7 Q552.5,56.2 553.4,54.7 Q554.4,53.2 555.3,54.7 Q556.3,56.2 557.2,54.7 Q558.2,53.2 559.1,54.7 Q560.1,56.2 561.0,54.7 Q561.9,53.2 562.9,54.7 M568.6,54.7 Q569.5,53.2 570.5,54.7 Q571.4,56.2 572.4,54.7 Q573.3,53.2 574.3,54.7 Q575.2,56.2 576.2,54.7 Q577.1,53.2 578.1,54.7 Q579.0,56.2 580.0,54.7 Q581.0,53.2 581.9,54.7 Q582.9,56.2 583.8,54.7 Q584.8,53.2 585.7,54.7 Q586.7,56.2 587.6,54.7 Q588.6,53.2 589.5,54.7 Q590.5,56.2 591.4,54.7 Q592.4,53.2 593.3,54.7 Q594.3,56.2 595.2,54.7 Q596.2,53.2 597.1,54.7 Q598.1,56.2 599.0,54.7 Q600.0,53.2 600.9,54.7 Q601.9,56.2 602.8,54.7 Q603.8,53.2 604.8,54.7 Q605.7,56.2 606.7,54.7 M4.7,70.0 Q5.6,68.5 6.6,70.0 Q7.5,71.5 8.5,70.0 Q9.4,68.5 10.4,70.0 Q11.3,71.5 12.3,70.0 Q13.2,68.5 14.2,70.0 Q15.1,71.5 16.1,70.0 Q17.0,68.5 18.0,70.0 Q18.9,71.5 19.9,70.0 Q20.8,68.5 21.8,70.0 Q22.7,71.5 23.7,70.0 Q24.6,68.5 25.6,70.0 Q26.5,71.5 27.5,70.0 Q28.4,68.5 29.4,70.0 Q30.3,71.5 31.3,70.0 Q32.2,68.5 33.2,70.0 Q34.1,71.5 35.1,70.0 Q36.0,68.5 37.0,70.0 Q37.9,71.5 38.9,70.0 Q39.8,68.5 40.8,70.0 Q41.7,71.5 42.6,70.0 Q43.6,68.5 44.5,70.0 Q45.5,71.5 46.4,70.0 Q47.4,68.5 48.3,70.0 Q49.3,71.5 50.2,70.0 Q51.2,68.5 52.1,70.0 Q53.1,71.5 54.0,70.0 Q55.0,68.5 55.9,70.0 Q56.9,71.5 57.8,70.0 Q58.8,68.5 59.7,70.0 Q60.7,71.5 61.6,70.0 Q62.6,68.5 63.5,70.0 Q64.5,71.5 65.4,70.0 Q66.4,68.5 67.3,70.0 Q68.3,71.5 69.2,70.0 Q70.2,68.5 71.1,70.0 Q72.1,71.5 73.0,70.0 Q74.0,68.5 74.9,70.0 Q75.9,71.5 76.8,70.0 Q77.7,68.5 78.7,70.0 Q79.6,71.5 80.6,70.0" fill="none" stroke="#f0403a" stroke-width="1.05"/></svg><!--/SQ-->
<div id="pct">%</div>
</body>
</html>
